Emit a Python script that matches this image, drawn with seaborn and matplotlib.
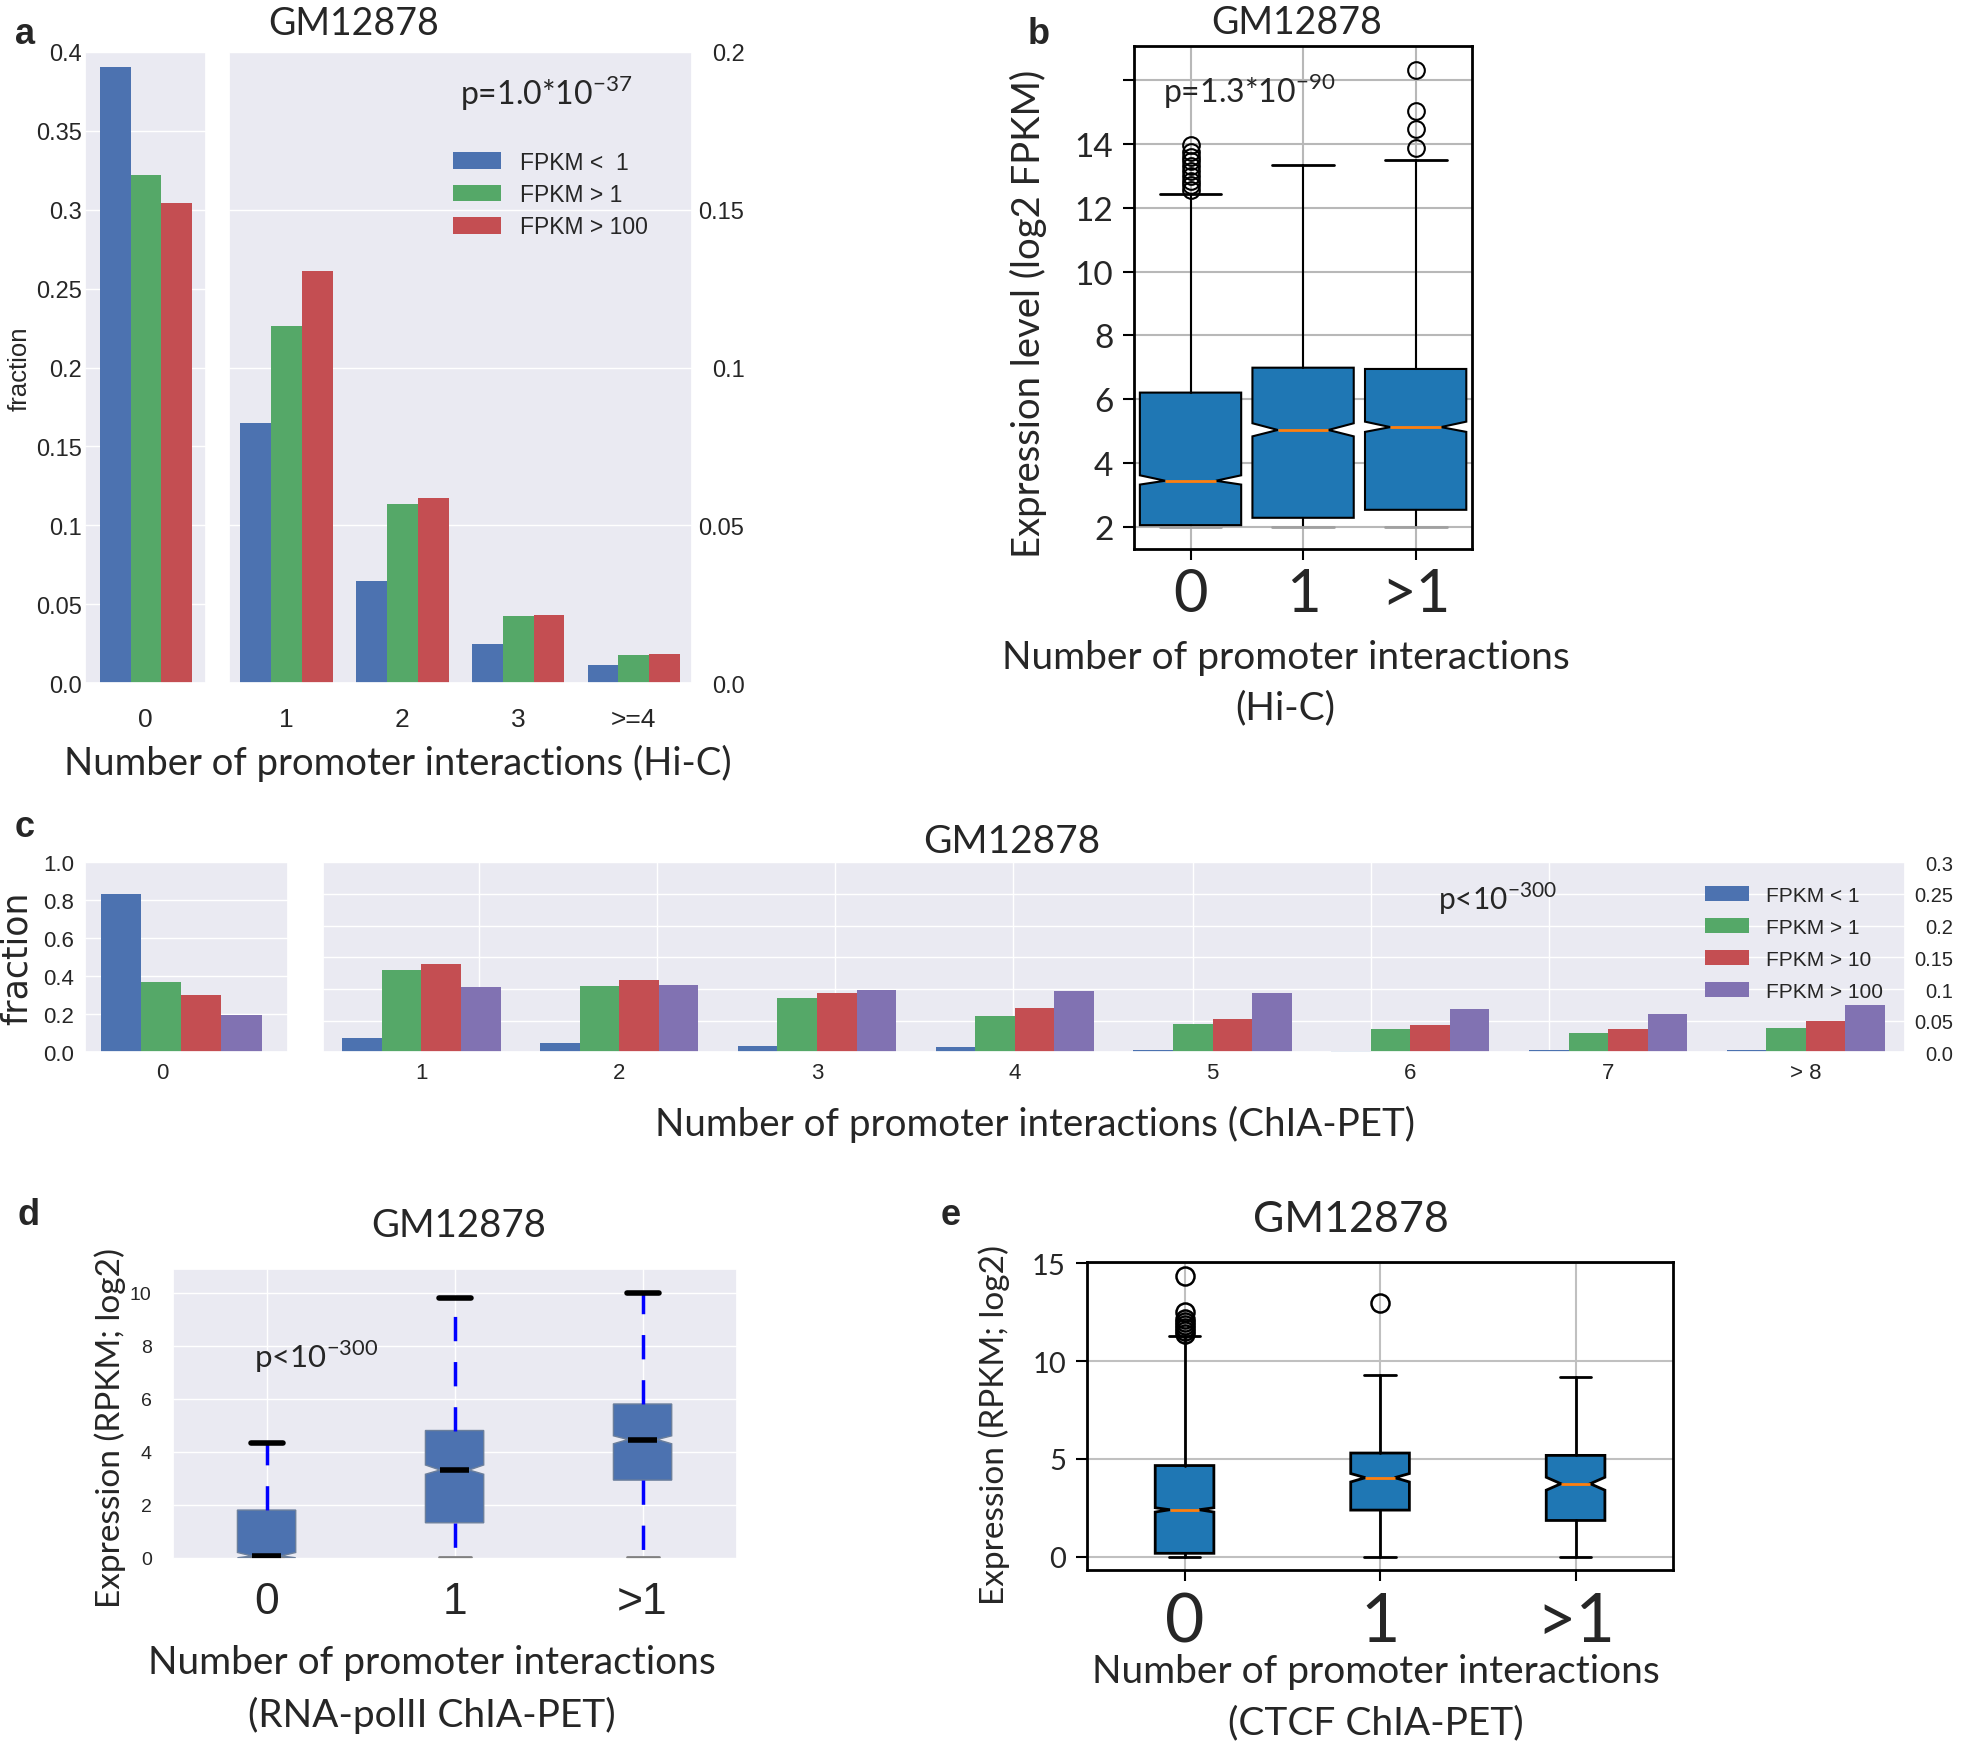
import pandas as pd
import seaborn as sns
import matplotlib.pyplot as plt
from matplotlib.patches import Patch
from matplotlib.transforms import ScaledTranslation

# ---------------- data ----------------
# panel a: fraction of genes by number of Hi-C promoter interactions
a_groups = ['FPKM <  1', 'FPKM > 1', 'FPKM > 100']
a_zero = [0.390, 0.322, 0.304]
a_cats = ['1', '2', '3', '>=4']
a_lt1 = [0.0825, 0.0324, 0.0126, 0.0057]
a_gt1 = [0.1131, 0.0569, 0.0214, 0.0091]
a_gt100 = [0.1305, 0.0587, 0.0217, 0.0093]
a_left_ticks = [0.0, 0.05, 0.1, 0.15, 0.2, 0.25, 0.3, 0.35, 0.4]
a_left_labels = ['0.0', '0.05', '0.1', '0.15', '0.2', '0.25', '0.3', '0.35', '0.4']
a_right_ticks = [0.0, 0.05, 0.1, 0.15, 0.2]
a_right_labels = ['0.0', '0.05', '0.1', '0.15', '0.2']

# panel b: expression (log2 FPKM) by Hi-C interactions
b_cats = ['0', '1', '>1']
b_med = [3.45, 5.04, 5.13]
b_q1 = [2.06, 2.29, 2.54]
b_q3 = [6.21, 6.99, 6.95]
b_lo = [2.0, 2.0, 2.0]
b_hi = [12.43, 13.33, 13.48]
b_cilo = [3.33, 4.84, 4.98]
b_cihi = [3.62, 5.25, 5.30]
b_fliers = [[12.55, 12.7, 12.85, 13.0, 13.15, 13.3, 13.45, 13.6, 13.75, 13.95],
            [],
            [13.86, 14.45, 15.02, 16.32]]

# panel c: fraction of genes by number of ChIA-PET promoter interactions
c_groups = ['FPKM < 1', 'FPKM > 1', 'FPKM > 10', 'FPKM > 100']
c_zero = [0.832, 0.372, 0.302, 0.196]
c_cats = ['1', '2', '3', '4', '5', '6', '7', '> 8']
c_lt1 = [0.023, 0.0153, 0.0095, 0.0079, 0.0037, 0.0021, 0.0037, 0.0037]
c_gt1 = [0.1305, 0.105, 0.0858, 0.0574, 0.0453, 0.0363, 0.0305, 0.0379]
c_gt10 = [0.139, 0.114, 0.0937, 0.0705, 0.0532, 0.0437, 0.0363, 0.0495]
c_gt100 = [0.104, 0.107, 0.0984, 0.0968, 0.0932, 0.0684, 0.0605, 0.0753]
c_left_ticks = [0.0, 0.2, 0.4, 0.6, 0.8, 1.0]
c_left_labels = ['0.0', '0.2', '0.4', '0.6', '0.8', '1.0']
c_right_ticks = [0.0, 0.05, 0.1, 0.15, 0.2, 0.25, 0.3]
c_right_labels = ['0.0', '0.05', '0.1', '0.15', '0.2', '0.25', '0.3']

# panel d: expression by RNA-polII ChIA-PET interactions
d_cats = ['0', '1', '>1']
d_med = [0.07, 3.31, 4.46]
d_q1 = [0.0, 1.32, 2.93]
d_q3 = [1.8, 4.8, 5.8]
d_lo = [0.0, 0.03, 0.03]
d_hi = [4.34, 9.8, 10.0]
d_cilo = [0.0, 3.15, 4.3]
d_cihi = [0.2, 3.5, 4.6]

# panel e: expression by CTCF ChIA-PET interactions
e_cats = ['0', '1', '>1']
e_med = [2.40, 4.04, 3.73]
e_q1 = [0.17, 2.38, 1.85]
e_q3 = [4.66, 5.30, 5.18]
e_lo = [0.0, 0.0, 0.0]
e_hi = [11.3, 9.28, 9.17]
e_cilo = [2.28, 3.82, 3.40]
e_cihi = [2.50, 4.25, 4.06]
e_fliers = [[11.4, 11.55, 11.7, 11.85, 12.0, 12.15, 12.5, 14.35], [12.99], []]

bar_colors = ['#4C72B0', '#55A868', '#C44E52', '#8172B2']


def long_frame(cats, groups, series):
    rows = []
    for g, vals in zip(groups, series):
        for c, v in zip(cats, vals):
            rows.append({'cat': c, 'group': g, 'value': v})
    return pd.DataFrame(rows)


def box_stats(cats, med, q1, q3, lo, hi, cilo, cihi, fliers=None):
    out = []
    for i, c in enumerate(cats):
        out.append(dict(label=c, med=med[i], q1=q1[i], q3=q3[i], whislo=lo[i],
                        whishi=hi[i], cilo=cilo[i], cihi=cihi[i],
                        fliers=fliers[i] if fliers else []))
    return out


def bars(ax, df, cats, groups, legend=False):
    sns.barplot(data=df, x='cat', y='value', hue='group', order=cats,
                hue_order=groups, palette=dict(zip(groups, bar_colors)),
                saturation=1, width=0.8, errorbar=None, linewidth=0,
                legend=legend, ax=ax)
    ax.set_xlabel('')
    ax.set_ylabel('')


def white_box_axes(ax):
    ax.set_facecolor('white')
    for s in ax.spines.values():
        s.set_visible(True)
        s.set_color('black')
        s.set_linewidth(2)
    ax.grid(True, color='#b8b8b8', linewidth=1.5)
    ax.set_axisbelow(True)
    ax.tick_params(left=True, bottom=True, length=8, width=1.5, color='black')


sns.set_theme(style='darkgrid')
plt.rcParams['font.family'] = ['Lato', 'DejaVu Sans']
ARIAL = 'Liberation Sans'
NARROW = ['Liberation Sans Narrow', 'Liberation Sans']

fig = plt.figure(figsize=(19.61, 17.49), dpi=100)

# ---------------- panel a ----------------
axa0 = fig.add_axes([0.0434, 0.6087, 0.0619, 0.3612])
bars(axa0, long_frame(['0'], a_groups, [[v] for v in a_zero]), ['0'], a_groups)
axa0.set_xlim(-0.53, 0.53)
axa0.set_ylim(0, 0.4)
axa0.set_yticks(a_left_ticks)
axa0.set_yticklabels(a_left_labels, family=ARIAL, fontsize=17)
axa0.set_xticks([0])
axa0.set_xticklabels(['0'], family=ARIAL, fontsize=19)
axa0.tick_params(axis='y', pad=2, length=0)
axa0.tick_params(axis='x', pad=17, length=0)

axa1 = fig.add_axes([0.1167, 0.6087, 0.2360, 0.3612])
bars(axa1, long_frame(a_cats, a_groups, [a_lt1, a_gt1, a_gt100]), a_cats, a_groups)
axa1.set_xlim(-0.5, 3.5)
axa1.set_ylim(0, 0.2)
axa1.yaxis.tick_right()
axa1.set_yticks(a_right_ticks)
axa1.set_yticklabels(a_right_labels, family=ARIAL, fontsize=17, ha='right')
axa1.tick_params(axis='y', pad=38, length=0)
axa1.set_xticks(range(len(a_cats)))
axa1.set_xticklabels(a_cats, family=ARIAL, fontsize=19)
axa1.tick_params(axis='x', pad=17, length=0)
handles = [Patch(facecolor=c, edgecolor='none') for c in bar_colors[:3]]
axa1.legend(handles, a_groups, loc='upper left', bbox_to_anchor=(0.44, 0.876),
            frameon=False, prop=dict(family=ARIAL, size=16.5), handlelength=2.1,
            handleheight=0.72, labelspacing=0.41, handletextpad=0.8)
axa1.text(0.5, 0.935, r'p=1.0*10$^{\mathregular{-37}}$', transform=axa1.transAxes,
          fontsize=23, va='center', ha='left')

fig.text(0.1805, 0.986, 'GM12878', fontsize=27, ha='center', va='center')
fig.text(0.0102, 0.789, 'fraction', family=ARIAL, fontsize=18.5, rotation=90,
         ha='center', va='center')
fig.text(0.203, 0.5637, 'Number of promoter interactions (Hi-C)', fontsize=27.5,
         ha='center', va='center')

# ---------------- panel b ----------------
axb = fig.add_axes([0.5784, 0.6853, 0.1722, 0.2876])
white_box_axes(axb)
res = axb.bxp(box_stats(b_cats, b_med, b_q1, b_q3, b_lo, b_hi, b_cilo, b_cihi, b_fliers),
              positions=range(3), widths=0.9, patch_artist=True, shownotches=True,
              capwidths=0.55,
              boxprops=dict(facecolor='#1f77b4', edgecolor='black', linewidth=1.5),
              medianprops=dict(color='#ff7f0e', linewidth=2),
              whiskerprops=dict(color='black', linewidth=1.5),
              capprops=dict(color='black', linewidth=2),
              flierprops=dict(marker='o', markerfacecolor='none', markeredgecolor='black',
                              markersize=12, markeredgewidth=1.5))
for cap in res['caps'][0::2]:
    cap.set_color('#a0a0a0')
axb.set_xlim(-0.5, 2.5)
axb.set_ylim(1.3, 17.05)
axb.set_yticks([2, 4, 6, 8, 10, 12, 14, 16])
axb.set_yticklabels(['2', '4', '6', '8', '10', '12', '14', ''], fontsize=24)
axb.set_xticks(range(3))
axb.set_xticklabels(b_cats, fontsize=43)
axb.tick_params(axis='x', pad=5)
axb.tick_params(axis='y', pad=7)
axb.text(0.085, 0.913, r'p=1.3*10$^{\mathregular{-90}}$', transform=axb.transAxes,
         fontsize=23, va='center', ha='left')
fig.text(0.6614, 0.987, 'GM12878', fontsize=27, ha='center', va='center')
fig.text(0.5242, 0.8205, 'Expression level (log2 FPKM)', fontsize=27.5, rotation=90,
         ha='center', va='center')
fig.text(0.6556, 0.6094, 'Number of promoter interactions\n(Hi-C)', fontsize=28,
         ha='center', va='center', linespacing=1.5)

# ---------------- panel c ----------------
axc0 = fig.add_axes([0.0434, 0.3977, 0.1033, 0.1087])
bars(axc0, long_frame(['0'], c_groups, [[v] for v in c_zero]), ['0'], c_groups)
axc0.set_xlim(-0.48, 0.53)
axc0.set_ylim(0, 1.0)
axc0.set_yticks(c_left_ticks)
axc0.set_yticklabels(c_left_labels, family=ARIAL, fontsize=16)
axc0.set_xticks([0])
axc0.set_xticklabels(['0'], family=ARIAL, fontsize=16)
axc0.tick_params(axis='y', pad=8, length=0)
axc0.tick_params(axis='x', pad=7, length=0)
for lab in axc0.get_xticklabels():
    lab.set_transform(lab.get_transform() + ScaledTranslation(-0.19, 0, fig.dpi_scale_trans))

axc1 = fig.add_axes([0.1645, 0.3977, 0.8068, 0.1087])
bars(axc1, long_frame(c_cats, c_groups, [c_lt1, c_gt1, c_gt10, c_gt100]), c_cats, c_groups)
axc1.set_xlim(-0.5, 7.5)
axc1.set_ylim(0, 0.3)
axc1.yaxis.tick_right()
axc1.set_yticks(c_right_ticks)
axc1.set_yticklabels(c_right_labels, family=ARIAL, fontsize=14.5, ha='right')
axc1.tick_params(axis='y', pad=35, length=0)
axc1.set_xticks(range(len(c_cats)))
axc1.set_xticklabels(c_cats, family=ARIAL, fontsize=16)
axc1.tick_params(axis='x', pad=7, length=0)
axc1.set_xticks([0.29, 1.19, 2.09, 2.99, 3.9, 4.8, 5.7], minor=True)
axc1.tick_params(axis='x', which='minor', length=0)
axc1.grid(False, axis='x', which='major')
axc1.grid(True, axis='x', which='minor', color='white', linewidth=1)
handles = [Patch(facecolor=c, edgecolor='none') for c in bar_colors]
axc1.legend(handles, c_groups, loc='upper left', bbox_to_anchor=(0.862, 0.975),
            frameon=False, prop=dict(family=ARIAL, size=15), handlelength=2.1,
            handleheight=0.78, labelspacing=0.62, handletextpad=0.8)
fig.text(0.7334, 0.486, r'p<10$^{\mathregular{-300}}$', fontsize=21.5, va='center', ha='left')
fig.text(0.516, 0.5186, 'GM12878', fontsize=28, ha='center', va='center')
fig.text(0.0085, 0.452, 'fraction', family='DejaVu Sans', fontsize=25, rotation=90,
         ha='center', va='center')
fig.text(0.528, 0.357, 'Number of promoter interactions (ChIA-PET)', fontsize=27.7,
         ha='center', va='center')

# ---------------- panel d ----------------
axd = fig.add_axes([0.0880, 0.1080, 0.2876, 0.1660])
res = axd.bxp(box_stats(d_cats, d_med, d_q1, d_q3, d_lo, d_hi, d_cilo, d_cihi),
              positions=range(3), widths=0.31, patch_artist=True, shownotches=True,
              capwidths=0.17,
              boxprops=dict(facecolor='#4C72B0', edgecolor='#6b7f9c', linewidth=1),
              medianprops=dict(color='black', linewidth=4),
              whiskerprops=dict(color='#0000ff', linewidth=2.5, linestyle=(0, (7, 6))),
              capprops=dict(color='black', linewidth=4))
for cap in res['caps'][0::2]:
    cap.set_color('#808080')
    cap.set_linewidth(2)
axd.set_xlim(-0.5, 2.5)
axd.set_ylim(-0.05, 10.9)
axd.set_yticks([0, 2, 4, 6, 8, 10])
axd.set_yticklabels(['0', '2', '4', '6', '8', '10'], family=NARROW, fontsize=14)
axd.set_xticks(range(3))
axd.set_xticklabels(d_cats, family=NARROW, fontsize=32)
axd.tick_params(axis='x', pad=10)
axd.tick_params(axis='y', pad=9)
axd.text(0.144, 0.70, r'p<10$^{\mathregular{-300}}$', transform=axd.transAxes,
         fontsize=22.5, va='center', ha='left')
fig.text(0.234, 0.299, 'GM12878', fontsize=27.6, ha='center', va='center')
fig.text(0.0561, 0.1838, 'Expression (RPKM; log2)', fontsize=24, rotation=90,
         ha='center', va='center')
fig.text(0.22, 0.034, 'Number of promoter interactions\n(RNA-polII ChIA-PET)',
         fontsize=28, ha='center', va='center', linespacing=1.5)

# ---------------- panel e ----------------
axe = fig.add_axes([0.5542, 0.1016, 0.2991, 0.1760])
white_box_axes(axe)
axe.grid(True, color='#c0c0c0', linewidth=1.5)
axe.bxp(box_stats(e_cats, e_med, e_q1, e_q3, e_lo, e_hi, e_cilo, e_cihi, e_fliers),
        positions=range(3), widths=0.3, patch_artist=True, shownotches=True,
        capwidths=0.16,
        boxprops=dict(facecolor='#1f77b4', edgecolor='black', linewidth=2),
        medianprops=dict(color='#ff7f0e', linewidth=2),
        whiskerprops=dict(color='black', linewidth=2),
        capprops=dict(color='black', linewidth=2),
        flierprops=dict(marker='o', markerfacecolor='none', markeredgecolor='black',
                        markersize=13, markeredgewidth=1.8))
axe.set_xlim(-0.5, 2.5)
axe.set_ylim(-0.7, 15.05)
axe.set_yticks([0, 5, 10, 15])
axe.set_yticklabels(['0', '5', '10', '15'], fontsize=21)
axe.set_xticks(range(3))
axe.set_xticklabels(e_cats, fontsize=49)
axe.tick_params(axis='x', pad=7)
axe.tick_params(axis='y', pad=7)
fig.text(0.6888, 0.3026, 'GM12878', fontsize=31, ha='center', va='center')
fig.text(0.507, 0.1853, 'Expression (RPKM; log2)', fontsize=24, rotation=90,
         ha='center', va='center')
fig.text(0.7015, 0.0294, 'Number of promoter interactions\n(CTCF ChIA-PET)',
         fontsize=28, ha='center', va='center', linespacing=1.5)

# ---------------- panel letters ----------------
for x, y, s in [(0.0077, 0.98, 'a'), (0.524, 0.98, 'b'), (0.0077, 0.527, 'c'),
                (0.0089, 0.305, 'd'), (0.4796, 0.305, 'e')]:
    fig.text(x, y, s, family=ARIAL, fontsize=26, fontweight='bold', ha='left', va='center')

fig.savefig('out.png', dpi=100)
